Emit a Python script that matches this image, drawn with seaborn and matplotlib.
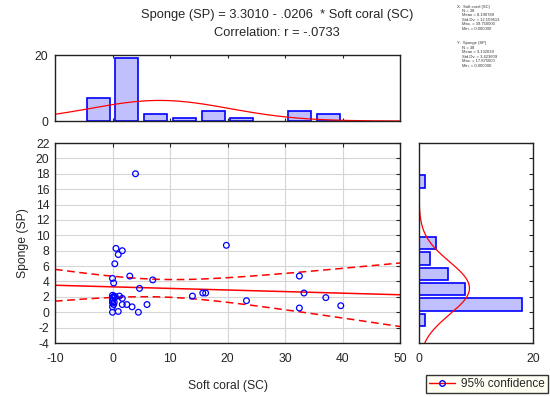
import numpy as np
import pandas as pd
import matplotlib
matplotlib.use("Agg")
import matplotlib.pyplot as plt
from matplotlib.lines import Line2D
import seaborn as sns

# ---- data ----
soft_coral = [0, 0, 0, 0, 0, 0, 0,
              4.0, 0.6, 1.7, 1.0, 0.4, 3.0, 0.2, 4.7, 1.2, 0.5, 1.7, 0.3, 1.7, 2.5, 3.4, 1.0, 4.5, 0.3, 0.2,
              6.0, 7.0, 13.9, 15.7, 16.2, 19.8, 23.3, 32.5, 33.3, 32.5, 37.1, 39.7]
sponge = [4.4, 2.2, 1.9, 1.2, 0.7, 0.0, 1.5,
          18.0, 8.3, 8.0, 7.5, 6.3, 4.7, 3.8, 3.1, 2.1, 2.0, 1.8, 1.3, 1.0, 1.0, 0.7, 0.1, 0.0, 2.1, 1.0,
          1.0, 4.2, 2.1, 2.5, 2.5, 8.7, 1.5, 4.7, 2.5, 0.55, 1.9, 0.85]

x_bin_centers = [-2.5, 2.5, 7.5, 12.5, 17.5, 22.5, 27.5, 32.5, 37.5]
x_bin_counts = [7, 19, 2, 1, 3, 1, 0, 3, 2]
y_bin_centers = [-1, 1, 3, 5, 7, 9, 11, 13, 15, 17]
y_bin_counts = [1, 18, 8, 5, 2, 3, 0, 0, 0, 1]

# regression and summary statistics printed on the chart
intercept = 3.3010
slope = -0.0206
r_value = -0.0733
n_obs = 38
x_mean, x_sd = 8.190789, 12.159613
y_mean, y_sd = 3.132039, 3.423609

x_stats = ["X:  Soft coral (SC)", "N = 38", "Mean = 8.190789", "Std.Dv. = 12.159613",
           "Max. = 39.750000", "Min. = 0.000000"]
y_stats = ["Y:  Sponge (SP)", "N = 38", "Mean = 3.132039", "Std.Dv. = 3.423609",
           "Max. = 17.875000", "Min. = 0.000000"]

title1 = "Sponge (SP) = 3.3010 - .0206  * Soft coral (SC)"
title2 = "Correlation: r = -.0733"

# ---- style ----
sns.set_style("white")
plt.rcParams['font.family'] = ['Liberation Sans', 'DejaVu Sans']
plt.rcParams['axes.unicode_minus'] = False

W, H = 550, 397
fig = plt.figure(figsize=(W / 100, H / 100), dpi=100)

def frac(l, t, r, b):
    return [l / W, 1 - b / H, (r - l) / W, (b - t) / H]

ax = fig.add_axes(frac(55, 143, 400, 343))
axt = fig.add_axes(frac(55, 55, 400, 121))
axr = fig.add_axes(frac(419, 143, 533, 343))

df = pd.DataFrame({"Soft coral (SC)": soft_coral, "Sponge (SP)": sponge})
n = n_obs
xs = np.linspace(-10, 50, 200)
fit = intercept + slope * xs
s_res = y_sd * np.sqrt((1 - r_value ** 2) * (n - 1) / (n - 2))
sxx = (n - 1) * x_sd ** 2
tval = 2.028
half = tval * s_res * np.sqrt(1 / n + (xs - x_mean) ** 2 / sxx)
line_df = pd.DataFrame({"x": xs, "fit": fit, "lo": fit - half, "hi": fit + half})

TICK_FS = 8.7

# ---- main scatter ----
ax.grid(True, color="#d6d6d6", linewidth=0.8)
ax.set_axisbelow(True)
sns.lineplot(data=line_df, x="x", y="fit", ax=ax, color="red", linewidth=1.1)
sns.lineplot(data=line_df, x="x", y="lo", ax=ax, color="red", linewidth=1.1, linestyle=(0, (5, 3)))
sns.lineplot(data=line_df, x="x", y="hi", ax=ax, color="red", linewidth=1.1, linestyle=(0, (5, 3)))
sns.scatterplot(data=df, x="Soft coral (SC)", y="Sponge (SP)", ax=ax, s=17,
                facecolor="none", edgecolor="blue", linewidth=0.9, zorder=5)
ax.set_xlim(-10, 50)
ax.set_ylim(-4, 22)
ax.set_xticks(range(-10, 51, 10))
ax.set_yticks(range(-4, 23, 2))
ax.tick_params(direction="in", length=3, top=True, right=True, labelsize=TICK_FS)
ax.tick_params(axis="x", pad=7)
ax.tick_params(axis="y", pad=4)
ax.set_xlabel("Soft coral (SC)", fontsize=8.7, labelpad=11)
ax.set_ylabel("Sponge (SP)", fontsize=8.7, labelpad=5)

# ---- top histogram ----
xh = pd.DataFrame({"c": x_bin_centers, "w": x_bin_counts})
sns.histplot(data=xh, x="c", weights="w", binwidth=5, binrange=(-5, 40), shrink=0.8,
             ax=axt, color="#c0c0ff", edgecolor="blue", linewidth=1.2, alpha=1)
for p in axt.patches:
    if p.get_height() == 0:
        p.set_visible(False)
xx = np.linspace(-10, 50, 300)
axt.plot(xx, n * 5 / (x_sd * np.sqrt(2 * np.pi)) * np.exp(-0.5 * ((xx - x_mean) / x_sd) ** 2),
         color="red", linewidth=0.9)
axt.set_xlim(-10, 50)
axt.set_ylim(0, 20)
axt.set_xticks(range(-10, 51, 10))
axt.set_xticklabels([])
axt.set_yticks([0, 20])
axt.set_ylabel("")
axt.set_xlabel("")
axt.tick_params(axis="x", direction="in", length=2.5, top=True, bottom=True)
axt.tick_params(axis="y", direction="out", length=0, labelsize=TICK_FS, pad=5)

# ---- right histogram ----
yh = pd.DataFrame({"c": y_bin_centers, "w": y_bin_counts})
sns.histplot(data=yh, y="c", weights="w", binwidth=2, binrange=(-2, 18), shrink=0.8,
             ax=axr, color="#c0c0ff", edgecolor="blue", linewidth=1.2, alpha=1)
for p in axr.patches:
    if p.get_width() == 0:
        p.set_visible(False)
yy = np.linspace(-4, 22, 300)
axr.plot(n * 2 / (y_sd * np.sqrt(2 * np.pi)) * np.exp(-0.5 * ((yy - y_mean) / y_sd) ** 2), yy,
         color="red", linewidth=0.9)
axr.set_xlim(0, 20)
axr.set_ylim(-4, 22)
axr.set_xticks([0, 20])
axr.set_yticks(range(-4, 23, 2))
axr.set_yticklabels([])
axr.set_xlabel("")
axr.set_ylabel("")
axr.tick_params(axis="y", direction="in", length=3, left=False, right=True)
axr.tick_params(axis="x", length=0, labelsize=TICK_FS, pad=7)

for a in (ax, axt, axr):
    for sp in a.spines.values():
        sp.set_color("#222222")
        sp.set_linewidth(1.0)

# ---- texts ----
fig.text(277 / W, 1 - 15 / H, title1, ha="center", va="center", fontsize=9.3)
fig.text(277 / W, 1 - 33 / H, title2, ha="center", va="center", fontsize=9.3)

for i, t in enumerate(x_stats):
    fig.text((457 if i == 0 else 462) / W, 1 - (6.7 + 4.4 * i) / H, t, fontsize=3.0, va="center",
             color="#333333")
for i, t in enumerate(y_stats):
    fig.text((457 if i == 0 else 462) / W, 1 - (43.3 + 4.5 * i) / H, t, fontsize=3.0, va="center",
             color="#333333")

handle = Line2D([], [], color="red", linewidth=1, marker="o", markersize=4,
                markerfacecolor="none", markeredgecolor="blue")
leg = fig.legend([handle], ["95% confidence"], loc="lower right",
                 bbox_to_anchor=(548 / W, 4 / H), fontsize=8.5, frameon=True, fancybox=False,
                 handlelength=2.2, handletextpad=0.5, borderpad=0.25, borderaxespad=0)
leg.get_frame().set_facecolor("#fffff2")
leg.get_frame().set_edgecolor("black")
leg.get_frame().set_linewidth(1.0)

fig.savefig("out.png", dpi=100)
